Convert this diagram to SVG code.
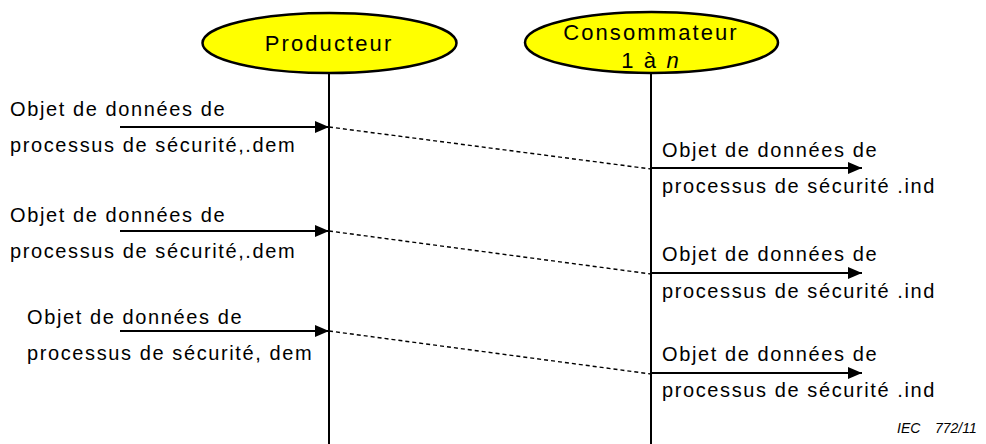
<svg xmlns="http://www.w3.org/2000/svg" width="986" height="444" viewBox="0 0 986 444">
  <style>
    .lbl { font-family: "Liberation Sans", Arial, sans-serif; font-size: 20px; letter-spacing: 1.6px; fill: #000; }
    .hdr { font-family: "Liberation Sans", Arial, sans-serif; font-size: 22px; letter-spacing: 2.1px; fill: #000; text-anchor: middle; }
    .actor { fill: #ffff00; stroke: #000; stroke-width: 2.5; }
    .life { stroke: #000; stroke-width: 2; fill: none; }
    .msg { stroke: #000; stroke-width: 2; fill: none; marker-end: url(#head); }
    .link { stroke: #000; stroke-width: 1.4; stroke-dasharray: 4 3; fill: none; }
    .ref { font-family: "Liberation Sans", Arial, sans-serif; font-size: 14px; font-style: italic; fill: #000; }
  </style>
  <defs>
    <marker id="head" viewBox="0 0 14 12" refX="14" refY="6" markerWidth="14" markerHeight="12" markerUnits="userSpaceOnUse" orient="auto">
      <path d="M0,0 L14,6 L0,12 Z" fill="#000"/>
    </marker>
  </defs>
  <rect width="986" height="444" fill="#fff"/>

  <g id="lifelines">
    <line class="life" x1="329" y1="73" x2="329" y2="444"/>
    <line class="life" x1="651" y1="73" x2="651" y2="444"/>
  </g>

  <g id="producteur">
    <ellipse class="actor" cx="329.5" cy="43" rx="127" ry="30"/>
    <text class="hdr" x="329" y="51">Producteur</text>
  </g>

  <g id="consommateur">
    <ellipse class="actor" cx="651.5" cy="42.5" rx="126.5" ry="30.5"/>
    <text class="hdr" x="651" y="40">Consommateur</text>
    <text class="hdr" x="651" y="68">1 à <tspan font-style="italic">n</tspan></text>
  </g>

  <g id="connectors">
    <line class="msg" x1="120" y1="127" x2="329" y2="127"/>
    <line class="link" x1="329" y1="127" x2="651" y2="169"/>
    <line class="msg" x1="651" y1="168" x2="862" y2="168"/>

    <line class="msg" x1="120" y1="231" x2="329" y2="231"/>
    <line class="link" x1="329" y1="231" x2="651" y2="274"/>
    <line class="msg" x1="651" y1="273" x2="862" y2="273"/>

    <line class="msg" x1="120" y1="331" x2="329" y2="331"/>
    <line class="link" x1="329" y1="331" x2="651" y2="374"/>
    <line class="msg" x1="651" y1="373" x2="862" y2="373"/>
  </g>

  <g id="dem-1">
    <text class="lbl" x="10" y="116">Objet de données de</text>
    <text class="lbl" x="10" y="152">processus de sécurité,.dem</text>
  </g>
  <g id="ind-1">
    <text class="lbl" x="662" y="157">Objet de données de</text>
    <text class="lbl" x="662" y="193">processus de sécurité .ind</text>
  </g>
  <g id="dem-2">
    <text class="lbl" x="10" y="222">Objet de données de</text>
    <text class="lbl" x="10" y="258">processus de sécurité,.dem</text>
  </g>
  <g id="ind-2">
    <text class="lbl" x="662" y="261">Objet de données de</text>
    <text class="lbl" x="662" y="298">processus de sécurité .ind</text>
  </g>
  <g id="dem-3">
    <text class="lbl" x="27" y="324">Objet de données de</text>
    <text class="lbl" x="27" y="360">processus de sécurité, dem</text>
  </g>
  <g id="ind-3">
    <text class="lbl" x="662" y="361">Objet de données de</text>
    <text class="lbl" x="662" y="397">processus de sécurité .ind</text>
  </g>

  <g id="ref">
    <text class="ref" x="897" y="433">IEC</text>
    <text class="ref" x="935" y="433">772/11</text>
  </g>
</svg>
